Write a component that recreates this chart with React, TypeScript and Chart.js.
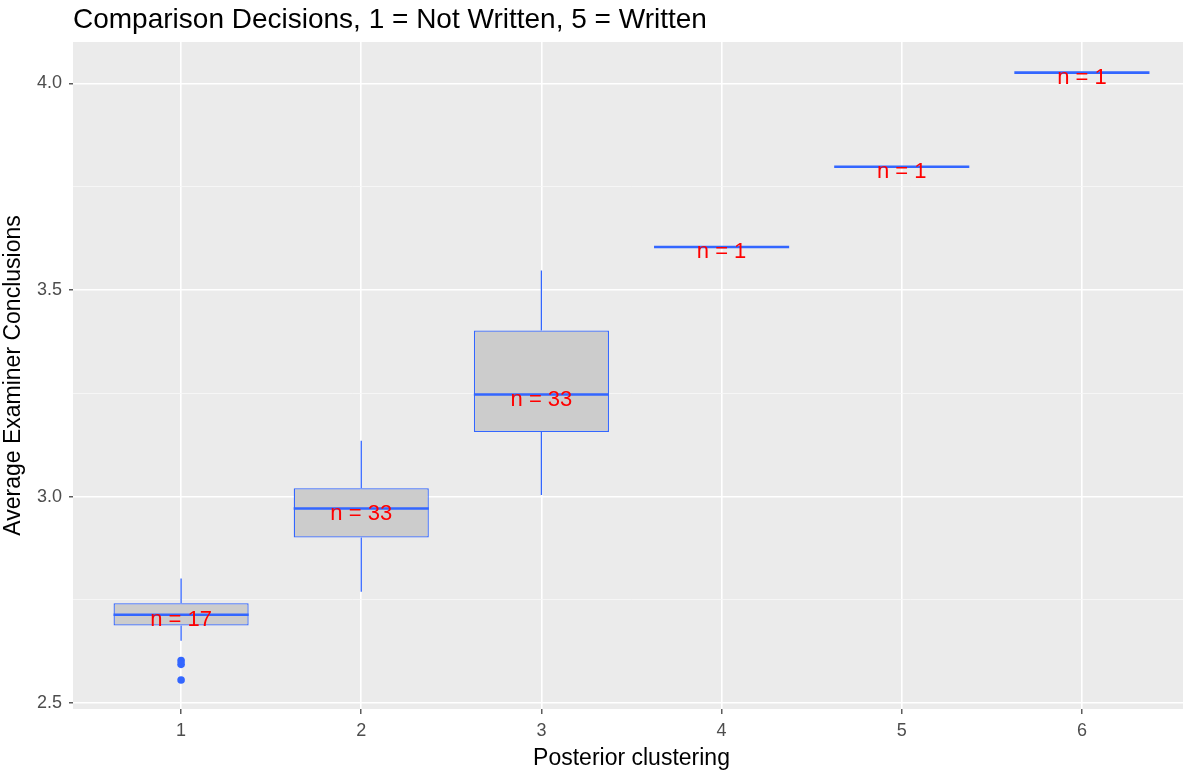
import React, { useEffect, useRef } from "react";
import { Chart, registerables } from "chart.js";

Chart.register(...registerables);

// ---- data ----
const groups = [1, 2, 3, 4, 5, 6];
const q1 = [2.688, 2.901, 3.156, 3.604, 3.798, 4.026];
const median = [2.714, 2.971, 3.247, 3.604, 3.798, 4.026];
const q3 = [2.742, 3.02, 3.402, 3.604, 3.798, 4.026];
const whiskerLow = [2.651, 2.77, 3.004, 3.604, 3.798, 4.026];
const whiskerHigh = [2.802, 3.135, 3.547, 3.604, 3.798, 4.026];
const counts = [17, 33, 33, 1, 1, 1];
const outlierX = [1, 1, 1];
const outlierY = [2.603, 2.594, 2.556];
const xTicks = [1, 2, 3, 4, 5, 6];
const yTicks = [2.5, 2.75, 3.0, 3.25, 3.5, 3.75, 4.0];
const yMajor = [2.5, 3.0, 3.5, 4.0];

const TITLE = "Comparison Decisions, 1 = Not Written, 5 = Written";
const X_TITLE = "Posterior clustering";
const Y_TITLE = "Average Examiner Conclusions";

const FONT = "'Liberation Sans', Arial, sans-serif";
const BLUE = "#3366FF";

const isMajor = (v: number) => yMajor.some((m) => Math.abs(m - v) < 1e-9);

const boxPlugin = {
  id: "boxExtras",
  beforeDraw(chart: any) {
    const { ctx, chartArea } = chart;
    ctx.save();
    ctx.fillStyle = "#EBEBEB";
    ctx.fillRect(chartArea.left, chartArea.top, chartArea.right - chartArea.left, chartArea.bottom - chartArea.top);
    ctx.restore();
  },
  afterDatasetsDraw(chart: any) {
    const { ctx } = chart;
    const xs = chart.scales.x;
    const ys = chart.scales.y;
    const half = (xs.getPixelForValue(1.375) - xs.getPixelForValue(0.625)) / 2;
    ctx.save();
    // whiskers
    ctx.strokeStyle = BLUE;
    ctx.lineWidth = 1.3;
    groups.forEach((g, i) => {
      const x = xs.getPixelForValue(g);
      ctx.beginPath();
      ctx.moveTo(x, ys.getPixelForValue(q3[i]));
      ctx.lineTo(x, ys.getPixelForValue(whiskerHigh[i]));
      ctx.moveTo(x, ys.getPixelForValue(q1[i]));
      ctx.lineTo(x, ys.getPixelForValue(whiskerLow[i]));
      ctx.stroke();
    });
    // medians
    ctx.lineWidth = 2.6;
    groups.forEach((g, i) => {
      const x = xs.getPixelForValue(g);
      const y = ys.getPixelForValue(median[i]);
      ctx.beginPath();
      ctx.moveTo(x - half, y);
      ctx.lineTo(x + half, y);
      ctx.stroke();
    });
    // n labels
    ctx.fillStyle = "#FF0000";
    ctx.font = `22px ${FONT}`;
    ctx.textAlign = "center";
    ctx.textBaseline = "alphabetic";
    groups.forEach((g, i) => {
      const x = xs.getPixelForValue(g);
      const y = ys.getPixelForValue(median[i]);
      ctx.fillText(`n = ${counts[i]}`, x, y + 11);
    });
    ctx.restore();
  },
  afterDraw(chart: any) {
    const { ctx, chartArea } = chart;
    ctx.save();
    ctx.fillStyle = "#000000";
    ctx.font = `28px ${FONT}`;
    ctx.textAlign = "left";
    ctx.textBaseline = "alphabetic";
    ctx.fillText(TITLE, chartArea.left, 28);
    ctx.restore();
  },
};

export default function App() {
  const ref = useRef<HTMLCanvasElement | null>(null);

  useEffect(() => {
    if (!ref.current) return;
    const chart = new Chart(ref.current, {
      type: "bar",
      data: {
        datasets: [
          {
            type: "bar",
            data: groups.map((g, i) => ({ x: g, y: [q1[i], q3[i]] })) as any,
            backgroundColor: "#CCCCCC",
            borderColor: BLUE,
            borderWidth: 1.3,
            borderSkipped: false,
            grouped: false,
            categoryPercentage: 1,
            barPercentage: 0.75,
          } as any,
          {
            type: "scatter",
            data: outlierX.map((x, i) => ({ x, y: outlierY[i] })),
            backgroundColor: BLUE,
            borderColor: BLUE,
            pointRadius: 3.8,
            borderWidth: 0,
          } as any,
        ],
      },
      options: {
        animation: false,
        responsive: false,
        layout: { padding: { top: 42, left: 0, right: 0, bottom: 0 } },
        plugins: { legend: { display: false }, tooltip: { enabled: false }, title: { display: false } },
        scales: {
          x: {
            type: "linear",
            min: 0.4,
            max: 6.6,
            offset: false,
            afterBuildTicks: (scale: any) => {
              scale.ticks = xTicks.map((v) => ({ value: v }));
            },
            afterFit: (scale: any) => {
              scale.height = 65;
              scale.paddingRight = 0;
              scale.paddingLeft = 0;
            },
            ticks: {
              color: "#4D4D4D",
              font: { family: FONT, size: 18 },
              padding: 6,
              autoSkip: false,
              maxRotation: 0,
              callback: (v: any) => String(v),
            },
            grid: {
              offset: false,
              color: "#FFFFFF",
              lineWidth: 1.6,
              tickColor: "#333333",
              tickLength: 5,
              tickWidth: 1.2,
            },
            border: { display: false },
            title: {
              display: true,
              text: X_TITLE,
              color: "#000000",
              font: { family: FONT, size: 23 },
              padding: { top: 0, bottom: 2 },
            },
          },
          y: {
            type: "linear",
            min: 2.486,
            max: 4.1,
            afterBuildTicks: (scale: any) => {
              scale.ticks = yTicks.map((v) => ({ value: v }));
            },
            afterFit: (scale: any) => {
              scale.width = 73;
            },
            ticks: {
              color: "#4D4D4D",
              font: { family: FONT, size: 18 },
              padding: 7,
              autoSkip: false,
              callback: (v: any) => (isMajor(Number(v)) ? Number(v).toFixed(1) : ""),
            },
            grid: {
              color: (c: any) => (c.tick && isMajor(c.tick.value) ? "#FFFFFF" : "#F7F7F7"),
              lineWidth: (c: any) => (c.tick && isMajor(c.tick.value) ? 1.6 : 0.9),
              tickColor: (c: any) => (c.tick && isMajor(c.tick.value) ? "#333333" : "rgba(0,0,0,0)"),
              tickLength: 4,
              tickWidth: 1.2,
            },
            border: { display: false },
            title: {
              display: true,
              text: Y_TITLE,
              color: "#000000",
              font: { family: FONT, size: 23 },
              padding: { top: 0, bottom: 0 },
            },
          },
        },
      } as any,
      plugins: [boxPlugin],
    });
    return () => chart.destroy();
  }, []);

  return (
    <div style={{ position: "fixed", left: 0, top: 0, width: 1183, height: 774, overflow: "hidden", background: "#FFFFFF" }}>
      <canvas ref={ref} width={1194} height={774} style={{ display: "block" }} />
    </div>
  );
}
